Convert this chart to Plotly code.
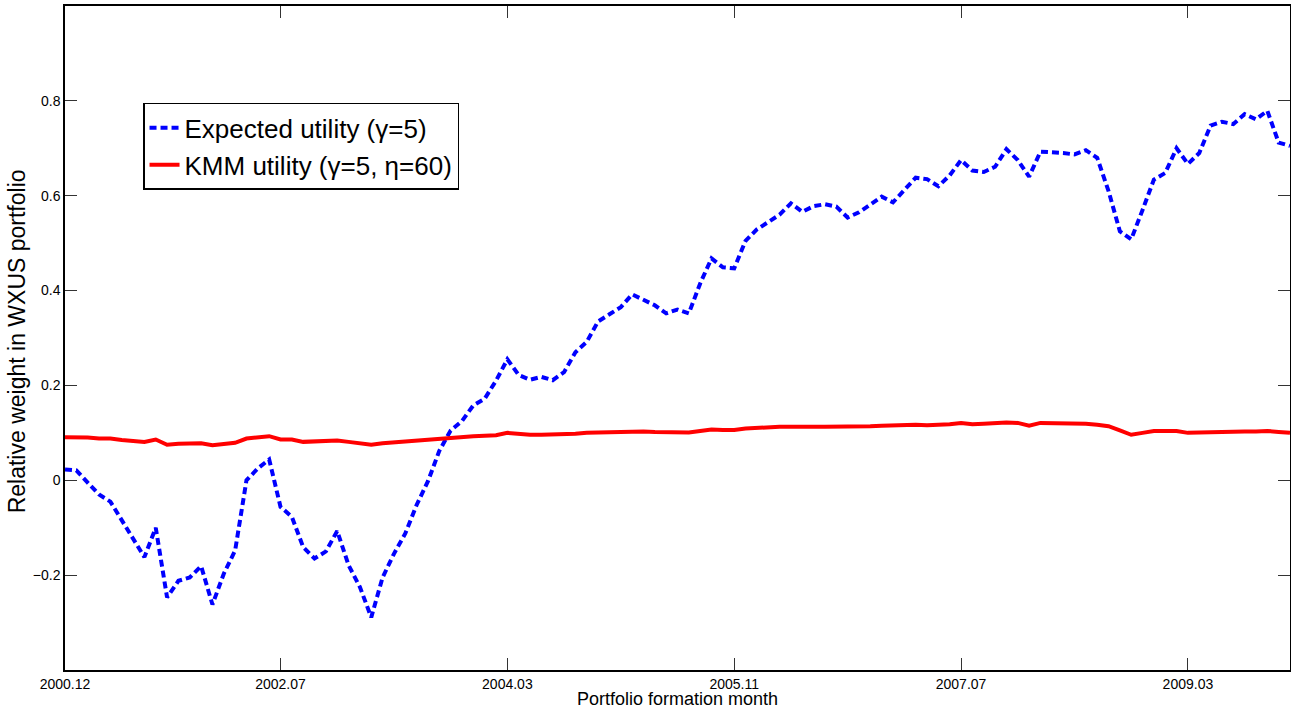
import plotly.graph_objects as go

# ---- data ----
start_year, start_month, n_months = 2000, 12, 109
months = []
y_, m_ = start_year, start_month
for _ in range(n_months):
    months.append(f"{y_}.{m_:02d}")
    m_ += 1
    if m_ > 12:
        m_ = 1
        y_ += 1

expected_utility = [
    0.023, 0.021, -0.005, -0.030, -0.045, -0.085, -0.125, -0.162, -0.100, -0.247,
    -0.212, -0.205, -0.181, -0.262, -0.197, -0.148, 0.000, 0.025, 0.044, -0.056,
    -0.077, -0.141, -0.165, -0.150, -0.107, -0.179, -0.225, -0.289, -0.205, -0.155,
    -0.112, -0.052, -0.002, 0.062, 0.105, 0.125, 0.158, 0.172, 0.210, 0.255,
    0.222, 0.212, 0.218, 0.211, 0.228, 0.270, 0.292, 0.335, 0.350, 0.365,
    0.392, 0.380, 0.369, 0.352, 0.360, 0.352, 0.415, 0.468, 0.449, 0.447,
    0.505, 0.529, 0.545, 0.560, 0.584, 0.566, 0.578, 0.582, 0.577, 0.554,
    0.565, 0.582, 0.598, 0.586, 0.612, 0.638, 0.635, 0.620, 0.643, 0.675,
    0.653, 0.650, 0.661, 0.698, 0.675, 0.640, 0.693, 0.692, 0.690, 0.687,
    0.696, 0.680, 0.610, 0.525, 0.508, 0.570, 0.634, 0.648, 0.700, 0.667,
    0.690, 0.748, 0.756, 0.751, 0.772, 0.761, 0.779, 0.712, 0.705,
]

kmm_utility = [
    0.091, 0.091, 0.090, 0.088, 0.088, 0.085, 0.083, 0.081, 0.086, 0.075,
    0.077, 0.077, 0.078, 0.074, 0.077, 0.079, 0.088, 0.090, 0.093, 0.086,
    0.086, 0.081, 0.082, 0.082, 0.084, 0.081, 0.078, 0.075, 0.078, 0.080,
    0.083, 0.085, 0.086, 0.089, 0.091, 0.092, 0.093, 0.094, 0.095, 0.100,
    0.097, 0.096, 0.096, 0.096, 0.097, 0.098, 0.100, 0.101, 0.102, 0.103,
    0.104, 0.103, 0.102, 0.101, 0.101, 0.101, 0.104, 0.107, 0.106, 0.106,
    0.109, 0.111, 0.112, 0.113, 0.113, 0.112, 0.113, 0.113, 0.113, 0.112,
    0.113, 0.114, 0.115, 0.116, 0.117, 0.117, 0.116, 0.116, 0.118, 0.121,
    0.118, 0.119, 0.121, 0.122, 0.121, 0.115, 0.121, 0.121, 0.120, 0.120,
    0.119, 0.117, 0.114, 0.105, 0.096, 0.100, 0.104, 0.104, 0.104, 0.100,
    0.101, 0.102, 0.102, 0.102, 0.103, 0.103, 0.104, 0.102, 0.100,
]

x_tick_labels = ["2000.12", "2002.07", "2004.03", "2005.11", "2007.07", "2009.03"]
y_tick_values = [-0.2, 0, 0.2, 0.4, 0.6, 0.8]
y_tick_labels = ["\u22120.2", "0", "0.2", "0.4", "0.6", "0.8"]

FONT = "Liberation Sans, Arial, Helvetica, sans-serif"

fig = go.Figure()
fig.add_trace(go.Scatter(
    x=months, y=expected_utility, mode="lines",
    name="Expected utility (\u03b3=5)",
    line=dict(color="#0000FF", width=4, dash="7px,4px"),
))
fig.add_trace(go.Scatter(
    x=months, y=kmm_utility, mode="lines",
    name="KMM utility (\u03b3=5, \u03b7=60)",
    line=dict(color="#FF0000", width=4),
))

axis_common = dict(
    showgrid=False, zeroline=False, showline=True, linecolor="black",
    linewidth=1.5, mirror="ticks", ticks="inside", ticklen=12,
    tickcolor="#333333", tickwidth=1, automargin=False,
    tickfont=dict(family=FONT, size=14, color="black"),
)

fig.update_layout(
    width=1291, height=711,
    margin=dict(l=65, r=1, t=6, b=41),
    paper_bgcolor="white", plot_bgcolor="white",
    font=dict(family=FONT, color="black"),
    showlegend=True,
    legend=dict(
        x=0.0637, y=0.854, xanchor="left", yanchor="top",
        bgcolor="white", bordercolor="black", borderwidth=1.5,
        font=dict(family=FONT, size=26, color="black"),
        tracegroupgap=0,
    ),
    xaxis=dict(
        type="category", range=[0, n_months - 1],
        tickmode="array", tickvals=x_tick_labels, ticktext=x_tick_labels,
        **axis_common,
    ),
    yaxis=dict(
        range=[-0.4, 1.0], tickmode="array",
        tickvals=y_tick_values, ticktext=y_tick_labels,
        **axis_common,
    ),
    annotations=[
        dict(text="Portfolio formation month", xref="paper", yref="paper",
             x=0.5, y=0, xanchor="center", yanchor="middle", yshift=-29,
             showarrow=False, font=dict(family=FONT, size=18, color="black")),
        dict(text="Relative weight in WXUS portfolio", xref="paper", yref="paper",
             x=0, y=0.495, xanchor="center", yanchor="middle", xshift=-48,
             textangle=-90, showarrow=False,
             font=dict(family=FONT, size=23, color="black")),
    ],
)

fig.write_html(
    "out.html",
    config={"responsive": False, "displayModeBar": False},
    post_script="document.body.style.margin='0';document.body.style.padding='0';"
                "document.body.style.overflow='hidden';",
)
